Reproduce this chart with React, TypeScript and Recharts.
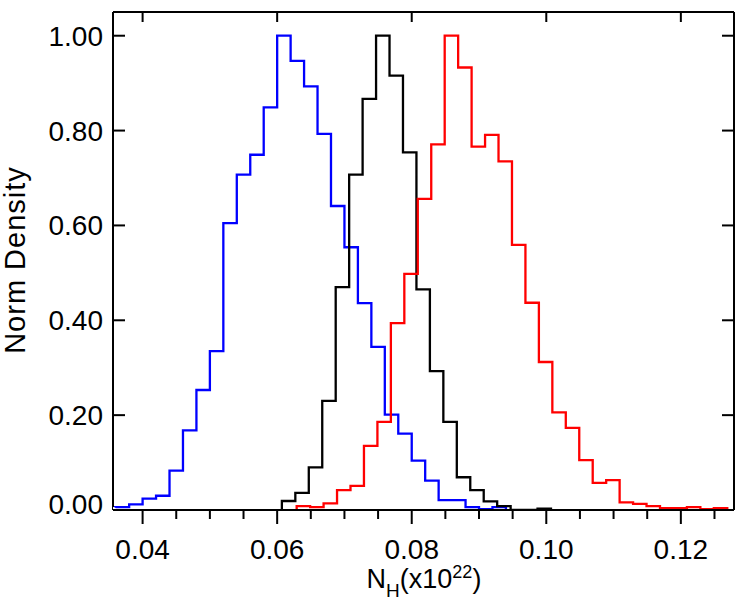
import { LineChart, Line, XAxis, YAxis } from 'recharts';

const FONT = '"Liberation Sans", Arial, Helvetica, sans-serif';

// histogram bins (bin width in units of 1e22)
const binWidth = 0.002;

const blueStart = 0.034;
const blueValues = [
  0.006, 0.006, 0.012, 0.024, 0.030, 0.083, 0.168, 0.253, 0.335, 0.605,
  0.707, 0.749, 0.849, 1.0, 0.947, 0.893, 0.793, 0.641, 0.554, 0.436,
  0.344, 0.201, 0.161, 0.104, 0.062, 0.021, 0.021, 0.006, 0.002, 0.006,
];

const blackStart = 0.0607;
const blackValues = [
  0.019, 0.036, 0.090, 0.230, 0.470, 0.707, 0.867, 1.0, 0.916, 0.754,
  0.465, 0.293, 0.186, 0.069, 0.042, 0.018, 0.008, 0, 0, 0.003,
];

const redStart = 0.0629;
const redValues = [
  0.008, 0.006, 0.014, 0.042, 0.051, 0.135, 0.186, 0.394, 0.498, 0.656,
  0.771, 1.0, 0.933, 0.766, 0.791, 0.735, 0.559, 0.437, 0.312, 0.206,
  0.173, 0.105, 0.057, 0.063, 0.016, 0.013, 0.008, 0.004, 0.004, 0.006,
  0.002, 0.004,
];

const xDomain = [0.0356, 0.1279];
const yDomain = [0, 1.05];
const xTicks = [0.04, 0.045, 0.05, 0.055, 0.06, 0.065, 0.07, 0.075, 0.08, 0.085, 0.09, 0.095, 0.1, 0.105, 0.11, 0.115, 0.12, 0.125];
const xMajorTicks = [0.04, 0.06, 0.08, 0.1, 0.12];
const yTicks = [0, 0.2, 0.4, 0.6, 0.8, 1.0];

function toSteps(start: number, values: number[]) {
  const pts = [{ x: start, y: 0 }];
  values.forEach((v, i) => pts.push({ x: start + i * binWidth, y: v }));
  pts.push({ x: start + values.length * binWidth, y: 0 });
  return pts;
}

const isMajor = (v: number) => xMajorTicks.some((m) => Math.abs(m - v) < 1e-9);

function BottomTick(props: any) {
  const { x, y, payload } = props;
  const major = isMajor(payload.value);
  return (
    <g>
      <line x1={x} x2={x} y1={y} y2={y + (major ? 14 : 9)} stroke="#000" strokeWidth={2} />
      {major && (
        <text x={x} y={y + 49} textAnchor="middle" fontSize={28} fontFamily={FONT} fill="#000">
          {payload.value.toFixed(2)}
        </text>
      )}
    </g>
  );
}

function TopTick(props: any) {
  const { x, y, payload } = props;
  if (!isMajor(payload.value)) return <g />;
  return <line x1={x} x2={x} y1={y} y2={y + 10} stroke="#000" strokeWidth={2} />;
}

function LeftTick(props: any) {
  const { x, y, payload } = props;
  const shift = payload.value === 0 ? -6 : 0;
  return (
    <g>
      <line x1={x} x2={x + 12} y1={y} y2={y} stroke="#000" strokeWidth={2} />
      <text x={x - 10} y={y + 10 + shift} textAnchor="end" fontSize={28} fontFamily={FONT} fill="#000">
        {payload.value.toFixed(2)}
      </text>
    </g>
  );
}

function RightTick(props: any) {
  const { x, y } = props;
  return <line x1={x} x2={x - 12} y1={y} y2={y} stroke="#000" strokeWidth={2} />;
}

const xTitle = () => (
  <text x={424} y={588} textAnchor="middle" fontSize={27} fontFamily={FONT} fill="#000">
    N
    <tspan fontSize={19} dy={9}>H</tspan>
    <tspan dy={-9}>(x10</tspan>
    <tspan fontSize={18} dy={-10}>22</tspan>
    <tspan dy={10}>)</tspan>
  </text>
);

const yTitle = () => (
  <text x={25} y={260} transform="rotate(-90 25 260)" textAnchor="middle" fontSize={29} letterSpacing={1} fontFamily={FONT} fill="#000">
    Norm Density
  </text>
);

const axisLine = { stroke: '#000', strokeWidth: 2 };

export default function App() {
  return (
    <div style={{ position: 'absolute', left: 0, top: 0, width: 750, height: 600, background: '#fff' }}>
      <LineChart width={750} height={600} margin={{ top: 11, right: 15, bottom: 0, left: 0 }}>
        <XAxis
          dataKey="x"
          type="number"
          domain={xDomain}
          allowDataOverflow
          ticks={xTicks}
          interval={0}
          height={90}
          tickSize={0}
          tickMargin={0}
          tickLine={false}
          axisLine={axisLine}
          tick={<BottomTick />}
          label={xTitle}
        />
        <XAxis
          xAxisId="top"
          orientation="top"
          dataKey="x"
          type="number"
          domain={xDomain}
          allowDataOverflow
          ticks={xTicks}
          interval={0}
          height={1}
          tickSize={0}
          tickMargin={0}
          tickLine={false}
          axisLine={axisLine}
          tick={<TopTick />}
        />
        <YAxis
          type="number"
          domain={yDomain}
          allowDataOverflow
          ticks={yTicks}
          interval={0}
          width={113}
          tickSize={0}
          tickMargin={0}
          tickLine={false}
          axisLine={axisLine}
          tick={<LeftTick />}
          label={yTitle}
        />
        <YAxis
          yAxisId="right"
          orientation="right"
          type="number"
          domain={yDomain}
          allowDataOverflow
          ticks={yTicks}
          interval={0}
          width={1}
          tickSize={0}
          tickMargin={0}
          tickLine={false}
          axisLine={axisLine}
          tick={<RightTick />}
        />
        <Line data={toSteps(blueStart, blueValues)} dataKey="y" type="stepAfter" stroke="#0000ff" strokeWidth={2.3} dot={false} isAnimationActive={false} />
        <Line data={toSteps(blackStart, blackValues)} dataKey="y" type="stepAfter" stroke="#000000" strokeWidth={2.3} dot={false} isAnimationActive={false} />
        <Line data={toSteps(redStart, redValues)} dataKey="y" type="stepAfter" stroke="#ff0000" strokeWidth={2.3} dot={false} isAnimationActive={false} />
        <Line xAxisId="top" yAxisId="right" data={[{ x: xDomain[0], y: 0 }]} dataKey="y" stroke="none" dot={false} legendType="none" isAnimationActive={false} />
      </LineChart>
    </div>
  );
}
